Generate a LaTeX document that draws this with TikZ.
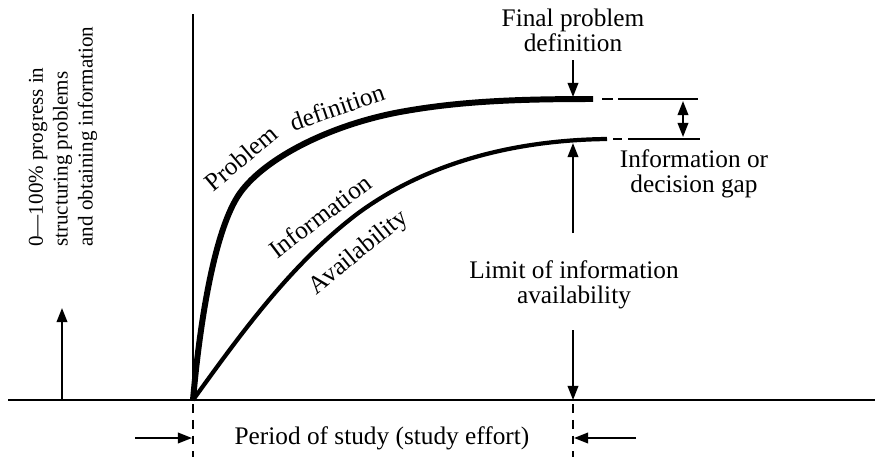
\documentclass[tikz,border=0pt]{standalone}
\usepackage{fontspec}
\setmainfont{Liberation Serif}
\usetikzlibrary{arrows.meta}

\begin{document}
\begin{tikzpicture}[
  x=0.02cm, y=-0.02cm,
  font=\fontsize{14.4}{14.2}\selectfont,
  thin_line/.style={line width=1.1pt},
  arrow/.style={-{Triangle[length=8pt,width=6pt]}, line width=1.1pt},
  twoway/.style={{Triangle[length=8pt,width=6pt]}-{Triangle[length=8pt,width=6pt]}, line width=1.1pt},
  tick_line/.style={line width=1.1pt, dash pattern=on 5pt off 4pt},
  curve_pd/.style={line width=3.4pt},
  curve_ia/.style={line width=2.4pt},
  label_text/.style={align=center, inner sep=0pt}
]
  \useasboundingbox (0,0) rectangle (875,457);

  % Axes and study period limits
  \coordinate (O) at (193,400);
  \coordinate (E) at (573,400);
  \draw[thin_line] (8,400) -- (875,400);
  \draw[thin_line] (O) -- (193,14);
  \draw[tick_line] (193,404) -- (193,457);
  \draw[tick_line] (573,404) -- (573,457);

  % Curves
  \coordinate (pd_end) at (593,99);
  \coordinate (ia_end) at (607,139);
  \draw[curve_pd] (O) .. controls (200,320) and (215,228) .. (240,193)
                      .. controls (265,158) and (330,125) .. (400,112)
                      .. controls (460,101) and (520,99) .. (pd_end);
  \draw[curve_ia] (O) .. controls (240,335) and (290,265) .. (357,214)
                      .. controls (430,160) and (520,140) .. (ia_end);

  % Extensions of the curves
  \draw[thin_line] (602,99) -- (613,99);
  \draw[thin_line] (618,99) -- (698,99);
  \draw[thin_line] (613,139) -- (622,139);
  \draw[thin_line] (628,139) -- (700,139);

  % Curve labels
  \node (pd_lbl_a) [inner sep=0pt, rotate=40] at (241,158) {Problem};
  \node (pd_lbl_b) [inner sep=0pt, rotate=19] at (337,107) {definition};
  \node (ia_lbl_a) [inner sep=0pt, rotate=37] at (320,216) {Information};
  \node (ia_lbl_b) [inner sep=0pt, rotate=39] at (359,253) {Availability};

  % Y axis label
  \node (y_lbl) [inner sep=0pt, rotate=90, anchor=west, align=left,
    font=\fontsize{12}{14.2}\selectfont] at (63,247)
    {0---100\% progress in\\structuring problems\\and obtaining information};
  \draw[arrow] (62,400) -- (62,308);

  % Final problem definition
  \node (final_lbl) [label_text] at (573,30) {Final problem\\definition};
  \draw[arrow] (573,60) -- (573,97);

  % Gap
  \draw[twoway] (683,101) -- (683,137);
  \node (gap_lbl) [label_text] at (694,174) {Information or\\decision gap};

  % Limit of information availability
  \node (limit_lbl) [label_text] at (574,285) {Limit of information\\availability};
  \draw[arrow] (573,233) -- (573,143);
  \draw[arrow] (573,330) -- (E);

  % Period of study
  \node (period_lbl) [label_text] at (382,438) {Period of study (study effort)};
  \draw[arrow] (135,438) -- (192,438);
  \draw[arrow] (636,438) -- (574,438);

\end{tikzpicture}
\end{document}
